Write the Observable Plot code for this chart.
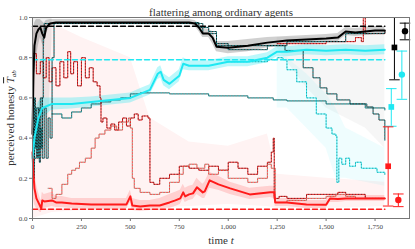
<!DOCTYPE html>
<html><head><meta charset="utf-8">
<script src="https://cdn.jsdelivr.net/npm/d3@7"></script>
<script src="https://cdn.jsdelivr.net/npm/@observablehq/plot@0.6"></script>
<style>body{margin:0;background:#fff}svg{display:block}</style>
</head><body><div id="chart"></div>
<script>
// ---- labels & ticks ----
const titleText = "flattering among ordinary agents";
const xTicks = [0, 250, 500, 750, 1000, 1250, 1500, 1750];
const yTicks = [0, 0.2, 0.4, 0.6, 0.8, 1.0];

// ---- reference (dashed) levels ----
const refT = [0, 1800];
const refBlack = 0.957, refCyan = 0.79, refRed = 0.046;

// ---- black mean + band ----
const bT  = [0,5,10,20,30,40,50,60,70,90,120,200,400,600,800,830,850,870,900,920,940,1000,1100,1200,1300,1400,1500,1560,1600,1650,1700,1750,1800];
const bV  = [0.42,0.72,0.86,0.92,0.94,0.95,0.92,0.9,0.95,0.97,0.975,0.975,0.975,0.975,0.975,0.97,0.95,0.92,0.92,0.9,0.855,0.85,0.86,0.875,0.885,0.89,0.895,0.9,0.93,0.925,0.93,0.935,0.935];
const bLo = [0.2,0.5,0.7,0.8,0.86,0.9,0.87,0.85,0.92,0.955,0.965,0.965,0.965,0.965,0.965,0.955,0.93,0.9,0.9,0.87,0.83,0.82,0.83,0.85,0.865,0.87,0.875,0.88,0.91,0.905,0.91,0.915,0.915];
const bHi = [0.65,0.92,0.97,0.99,0.99,0.99,0.98,0.97,0.985,0.99,0.99,0.99,0.99,0.99,0.99,0.985,0.97,0.945,0.94,0.93,0.88,0.88,0.89,0.9,0.905,0.91,0.915,0.92,0.95,0.945,0.95,0.955,0.955];

// ---- cyan mean + band ----
const cT  = [0,10,20,30,50,100,200,300,400,500,550,600,640,655,670,700,750,770,800,900,1000,1100,1200,1250,1300,1400,1500,1600,1700,1800];
const cV  = [0.3,0.4,0.45,0.5,0.55,0.57,0.57,0.58,0.59,0.6,0.62,0.64,0.72,0.73,0.69,0.67,0.71,0.77,0.76,0.76,0.78,0.78,0.8,0.83,0.83,0.84,0.835,0.84,0.835,0.84];
const cLo = [0.1,0.25,0.35,0.42,0.5,0.54,0.545,0.555,0.565,0.575,0.595,0.615,0.69,0.7,0.66,0.64,0.68,0.74,0.735,0.735,0.755,0.755,0.775,0.805,0.805,0.815,0.81,0.815,0.81,0.815];
const cHi = [0.5,0.55,0.55,0.58,0.6,0.6,0.6,0.605,0.615,0.625,0.645,0.665,0.75,0.76,0.72,0.7,0.74,0.8,0.785,0.785,0.805,0.805,0.825,0.855,0.855,0.865,0.86,0.865,0.86,0.865];

// ---- red mean + band ----
const rT  = [0,5,10,20,30,40,45,50,60,100,120,150,200,300,400,480,500,510,550,600,650,700,730,755,770,780,800,820,840,870,880,905,950,1010,1110,1215,1235,1240,1300,1400,1500,1520,1560,1600,1700,1800];
const rV  = [0.33,0.22,0.15,0.1,0.08,0.06,0.05,0.09,0.085,0.09,0.08,0.08,0.075,0.07,0.07,0.07,0.11,0.065,0.06,0.065,0.065,0.08,0.09,0.1,0.13,0.11,0.12,0.125,0.155,0.13,0.135,0.19,0.17,0.15,0.12,0.13,0.13,0.08,0.08,0.07,0.068,0.1,0.097,0.1,0.1,0.1];
const rLo = [0.15,0.1,0.07,0.05,0.04,0.03,0.03,0.05,0.05,0.06,0.055,0.055,0.05,0.045,0.045,0.045,0.08,0.04,0.035,0.04,0.04,0.05,0.06,0.07,0.1,0.08,0.09,0.095,0.12,0.1,0.1,0.15,0.14,0.12,0.095,0.105,0.1,0.06,0.06,0.05,0.05,0.08,0.08,0.085,0.085,0.085];
const rHi = [0.5,0.35,0.25,0.17,0.13,0.1,0.09,0.13,0.12,0.13,0.11,0.11,0.1,0.1,0.1,0.1,0.14,0.1,0.09,0.09,0.1,0.12,0.13,0.14,0.17,0.15,0.16,0.165,0.2,0.17,0.18,0.23,0.21,0.18,0.15,0.16,0.16,0.1,0.1,0.09,0.09,0.12,0.115,0.115,0.115,0.115];

// ---- faint spread regions ----
const pinkT  = [0,100,250,500,600,800,1000,1200,1250,1500,1800];
const pinkLo = [0.0,0.03,0.04,0.05,0.05,0.06,0.07,0.06,0.05,0.05,0.06];
const pinkHi = [0.95,0.97,0.9,0.8,0.5,0.38,0.36,0.42,0.22,0.2,0.18];
const grayEarlyT  = [0,20,50,80,100];
const grayEarlyLo = [0.2,0.3,0.3,0.4,0.9];
const grayEarlyHi = [1,1,1,1,1];
const grayLateT  = [1250,1300,1400,1500,1600,1700,1800];
const grayLateLo = [0.85,0.78,0.65,0.55,0.5,0.45,0.35];
const grayLateHi = [0.9,0.9,0.9,0.9,0.92,0.93,0.95];
const cyanSpT  = [1250,1300,1400,1500,1550,1600,1700,1800];
const cyanSpLo = [0.55,0.55,0.45,0.35,0.2,0.2,0.18,0.16];
const cyanSpHi = [0.82,0.8,0.72,0.62,0.55,0.45,0.4,0.35];

// ---- individual runs (thin lines) ----
const k1T = [0,10,20,30,40,50,60,70,80,90,100,110,830,870,940,1000,1200,1290,1383,1433,1469,1504,1555,1622,1708,1740,1770,1800];
const k1V = [0.5,0.3,0.55,0.35,0.6,0.3,0.55,0.3,0.5,0.4,0.8,0.97,0.97,0.92,0.86,0.84,0.86,0.836,0.75,0.7,0.65,0.62,0.59,0.57,0.555,0.52,0.49,0.39];
const k2T = [100,150,200,250,300,350,400,450,500,550,700,900,1100,1230,1300,1500,1700,1800];
const k2V = [0.52,0.5,0.53,0.55,0.57,0.58,0.59,0.6,0.62,0.625,0.62,0.61,0.6,0.59,0.585,0.57,0.55,0.54];
const k3T = [0,5,10,15,20,25,30,35,40,45,50,55,60,830,850,900,940,1000,1300,1600,1800];
const k3V = [0.45,0.2,0.6,0.35,0.5,0.3,0.55,0.28,0.45,0.35,0.6,0.9,0.97,0.975,0.95,0.93,0.87,0.86,0.88,0.92,0.93];
const c1T = [1000,1200,1250,1280,1300,1350,1400,1450,1500,1530,1550,1555,1565,1580,1600,1620,1650,1680,1720,1760,1800];
const c1V = [0.78,0.79,0.8,0.79,0.74,0.68,0.6,0.52,0.45,0.42,0.41,0.18,0.3,0.27,0.3,0.26,0.28,0.25,0.25,0.23,0.22];
const r1T = [0,20,40,55,70,85,100,120,140,160,180,195,210,230,250,270,290,310,330,345,350,360,380,400,420,440,460,480,500,520,540,560,590,600,620,650,700,750,800,850,900,950,1000,1050,1100,1150,1200,1220,1230,1235,1260,1300,1400,1500,1560,1600,1700,1800];
const r1V = [0.82,0.72,0.78,0.7,0.8,0.68,0.75,0.66,0.78,0.7,0.83,0.72,0.78,0.66,0.8,0.7,0.75,0.68,0.66,0.6,0.48,0.5,0.45,0.47,0.44,0.48,0.5,0.46,0.5,0.52,0.49,0.51,0.5,0.18,0.17,0.2,0.22,0.26,0.25,0.24,0.26,0.24,0.28,0.25,0.22,0.26,0.28,0.33,0.4,0.1,0.11,0.1,0.12,0.12,0.13,0.12,0.1,0.1];
const r2T = [80,100,120,150,180,200,220,240,270,300,320,340,370,400,430,460,490,500,510,520,550,600,650,700,750,770,800,840,880,900,950,1000,1100,1150,1200,1220,1240,1300,1400,1450,1500,1550,1600,1650,1700,1800];
const r2V = [0.15,0.1,0.12,0.17,0.22,0.24,0.25,0.28,0.3,0.35,0.4,0.42,0.44,0.46,0.44,0.48,0.5,0.45,0.2,0.15,0.13,0.12,0.13,0.18,0.22,0.26,0.27,0.25,0.27,0.22,0.24,0.2,0.18,0.2,0.27,0.25,0.08,0.09,0.1,0.1,0.11,0.12,0.11,0.1,0.1,0.1];
const r3T = [1250,1300,1400,1500,1600,1650,1680,1690,1700,1800];
const r3V = [0.87,0.87,0.87,0.88,0.88,0.9,0.88,1.0,0.92,0.93];

// ---- summary error bars (right) ----
const ebGroup = ["red","cyan","black","red","cyan","black"];
const ebShape = ["square","square","square","circle","circle","circle"];
const ebT   = [1817,1833,1849,1869,1887,1903];
const ebMid = [0.26,0.555,0.851,0.092,0.716,0.932];
const ebLo  = [0.062,0.459,0.69,0.059,0.593,0.889];
const ebHi  = [0.456,0.646,1.0,0.122,0.833,0.972];

// ---- styling ----
const col = {black: "#000000", cyan: "#1fe8f2", red: "#ff1a1a"};
const serif = "'Liberation Serif', 'DejaVu Serif', serif";

const zip = (t, v) => t.map((d, i) => ({t: d, v: v[i]}));
const band = (t, lo, hi) => t.map((d, i) => ({t: d, lo: lo[i], hi: hi[i]}));
const eb = ebT.map((t, i) => ({t, mid: ebMid[i], lo: ebLo[i], hi: ebHi[i], g: ebGroup[i], s: ebShape[i]}));

const capSymbol = {draw(ctx, size) { const w = Math.sqrt(size) * 0.9; ctx.moveTo(-w, 0); ctx.lineTo(w, 0); }};

function thin(t, v, base, dot) {
  return [
    Plot.line(zip(t, v), {x: "t", y: "v", stroke: base, strokeWidth: 0.85, curve: "step-after"}),
    Plot.line(zip(t, v), {x: "t", y: "v", stroke: dot, strokeWidth: 0.6, strokeDasharray: "0.6,2.4", curve: "step-after"})
  ];
}

const svg = Plot.plot({
  width: 415, height: 249,
  marginLeft: 32, marginRight: 6, marginTop: 17, marginBottom: 31,
  style: {fontFamily: serif, background: "#fff"},
  x: {domain: [0, 1926]},
  y: {domain: [0, 1]},
  marks: [
    Plot.areaY(band(pinkT, pinkLo, pinkHi), {x: "t", y1: "lo", y2: "hi", fill: col.red, fillOpacity: 0.05}),
    Plot.areaY(band(grayEarlyT, grayEarlyLo, grayEarlyHi), {x: "t", y1: "lo", y2: "hi", fill: "#888", fillOpacity: 0.15}),
    Plot.areaY(band(grayLateT, grayLateLo, grayLateHi), {x: "t", y1: "lo", y2: "hi", fill: "#888", fillOpacity: 0.08}),
    Plot.areaY(band(cyanSpT, cyanSpLo, cyanSpHi), {x: "t", y1: "lo", y2: "hi", fill: col.cyan, fillOpacity: 0.07}),
    Plot.areaY(band(bT, bLo, bHi), {x: "t", y1: "lo", y2: "hi", fill: "#777", fillOpacity: 0.35}),
    Plot.areaY(band(cT, cLo, cHi), {x: "t", y1: "lo", y2: "hi", fill: col.cyan, fillOpacity: 0.3}),
    Plot.areaY(band(rT, rLo, rHi), {x: "t", y1: "lo", y2: "hi", fill: col.red, fillOpacity: 0.16}),
    ...thin(k2T, k2V, "#0a3d3d", col.cyan),
    ...thin(c1T, c1V, col.cyan, "#117777"),
    ...thin(r1T, r1V, "#f00000", "#222"),
    ...thin(r2T, r2V, col.red, "#5fd"),
    ...thin(r3T, r3V, col.red, "#300"),
    ...thin(k3T, k3V, "#000", col.cyan),
    ...thin(k1T, k1V, "#111", col.cyan),
    Plot.line(zip(refT, [refBlack, refBlack]), {x: "t", y: "v", stroke: col.black, strokeWidth: 1.5, strokeDasharray: "5,3"}),
    Plot.line(zip(refT, [refCyan, refCyan]), {x: "t", y: "v", stroke: col.cyan, strokeWidth: 1.5, strokeDasharray: "5,3"}),
    Plot.line(zip(refT, [refRed, refRed]), {x: "t", y: "v", stroke: col.red, strokeWidth: 1.5, strokeDasharray: "5,3"}),
    Plot.line(zip(rT, rV), {x: "t", y: "v", stroke: col.red, strokeWidth: 2}),
    Plot.line(zip(cT, cV), {x: "t", y: "v", stroke: col.cyan, strokeWidth: 2}),
    Plot.line(zip(bT, bV), {x: "t", y: "v", stroke: col.black, strokeWidth: 2}),
    Plot.ruleX(eb, {x: "t", y1: "lo", y2: "hi", stroke: d => col[d.g], strokeWidth: 1}),
    Plot.dot(eb, {x: "t", y: "lo", symbol: capSymbol, r: 3.3, stroke: d => col[d.g], strokeWidth: 1}),
    Plot.dot(eb, {x: "t", y: "hi", symbol: capSymbol, r: 3.3, stroke: d => col[d.g], strokeWidth: 1}),
    Plot.dot(eb, {x: "t", y: "mid", symbol: d => d.s, r: 3.2, fill: d => col[d.g], stroke: "none"}),
    Plot.frame({stroke: "#777", strokeWidth: 1}),
    Plot.axisX({ticks: xTicks, tickSize: 3, tickPadding: 3, fontSize: 7, stroke: "#777", fill: "#444", label: null}),
    Plot.axisY({ticks: yTicks, tickSize: 3, tickPadding: 2, fontSize: 7, stroke: "#777", fill: "#444", tickFormat: d3.format(".1f"), label: null}),
    Plot.text([titleText], {frameAnchor: "top", dy: -9, fontSize: 11, fill: "#333", fontFamily: serif})
  ]
});

// axis titles with math-style pieces, as real text
const s = d3.select(svg);
const yl = s.append("text")
  .attr("transform", "translate(14,118) rotate(-90)")
  .attr("text-anchor", "middle")
  .attr("font-size", 11).attr("font-family", serif).attr("fill", "#333");
yl.append("tspan").text("perceived honesty ");
yl.append("tspan").attr("font-style", "italic").attr("text-decoration", "overline").text("T");
yl.append("tspan").attr("font-style", "italic").attr("font-size", 7).attr("dy", 2).text("ab");

const xl = s.append("text")
  .attr("x", 221).attr("y", 244)
  .attr("text-anchor", "middle")
  .attr("font-size", 11).attr("font-family", serif).attr("fill", "#333");
xl.append("tspan").text("time ");
xl.append("tspan").attr("font-style", "italic").text("t");

document.getElementById("chart").appendChild(svg);
</script>
</body></html>
